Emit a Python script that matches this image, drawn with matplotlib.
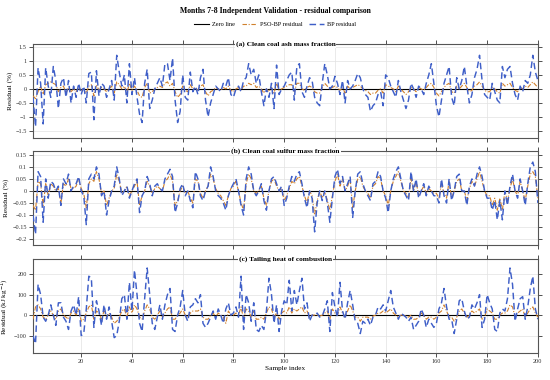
import numpy as np
import matplotlib
matplotlib.use("Agg")
import matplotlib.pyplot as plt
from matplotlib.ticker import FuncFormatter

plt.rcParams['font.family'] = ['Liberation Serif', 'DejaVu Serif']
plt.rcParams['axes.unicode_minus'] = True

# ---- data (residuals per sample, 200 samples) ----
ash_bp = [
    -0.3, -1.35, 0.75, 0.2, -1.25, 0.75, 0.1, -0.3, 0.8, 0.3,
    -0.7, 0.2, 0.4, -0.3, 0.3, -0.5, 0.1, -0.3, 0.2, -0.2,
    0.1, -0.5, 0.55, 0.6, -1.1, 0.65, -0.25, 0.2, 0.1, -0.3,
    0.0, 0.3, -0.4, 1.2, 0.6, 0.1, 0.5, -0.5, 0.9, -0.2,
    0.4, -0.3, -0.9, -1.2, 0.2, 0.7, -0.7, -0.4, 0.0, 0.2,
    0.4, 0.1, 0.9, 0.9, 0.3, 1.1, -0.4, -1.2, -0.8, 0.5,
    -0.3, -0.4, 0.6, -0.1, 0.1, -0.2, 0.4, 0.7, -0.4, -1.0,
    -0.5, -0.2, 0.1, 0.0, -0.1, 0.2, 0.1, 0.4, -0.2, -0.3,
    0.0, 0.1, -0.1, 0.3, 0.4, 0.9, 0.5, 0.7, 0.2, 0.5,
    -0.1, -0.6, 0.0, -0.3, 0.2, -0.7, 0.85, -0.2, 0.0, 0.1,
    0.3, 0.5, 0.6, -0.4, 0.8, 0.9, -0.1, -0.3, 0.1, 0.4,
    0.3, -0.3, -0.5, -0.6, 0.2, 0.9, 0.5, 0.0, 0.1, 0.45,
    0.2, -0.2, 0.3, -0.5, 0.3, 0.0, 0.1, 0.3, 0.55, 0.4,
    0.0, -0.2, -0.3, -0.8, -0.6, -0.5, -0.2, -0.1, -0.6, 0.5,
    0.4, 0.1, -0.1, -0.3, 0.3, -0.1, -0.4, -0.7, -0.4, 0.2,
    0.0, -0.3, 0.1, 0.0, -0.2, 0.2, 0.5, 0.9, 0.2, -0.6,
    -1.0, -0.4, 0.2, 0.5, 0.8, -0.3, -0.6, 0.4, 0.0, 0.3,
    0.8, 0.1, -0.5, -0.2, 0.4, 0.7, 1.2, 0.3, -0.2, -0.3,
    -0.4, 0.2, -0.1, -0.4, -0.5, 0.8, 0.4, 0.7, 0.8, 0.2,
    -0.2, -0.4, 0.1, -0.1, 0.3, 0.2, 0.5, 1.2, 0.6, 0.3,
]
ash_pso = [
    -0.25, -0.35, -0.1, 0.1, -0.2, 0.15, 0.2, 0.25, 0.2, 0.15,
    -0.1, 0.05, 0.1, -0.15, 0.05, -0.1, 0.0, -0.1, 0.05, -0.05,
    0.0, -0.15, 0.1, 0.15, -0.25, 0.15, -0.05, 0.05, 0.0, -0.1,
    0.0, 0.1, -0.15, 0.25, 0.15, 0.0, 0.1, -0.15, 0.2, -0.05,
    0.1, -0.05, -0.25, -0.3, 0.05, 0.2, -0.15, -0.1, 0.0, 0.05,
    0.1, 0.05, 0.2, 0.25, 0.1, 0.2, -0.1, -0.3, -0.2, 0.1,
    -0.05, -0.1, 0.15, 0.0, 0.05, -0.05, 0.1, 0.15, -0.1, -0.25,
    -0.1, -0.05, 0.05, 0.0, -0.05, 0.05, 0.0, 0.1, -0.05, -0.1,
    0.0, 0.05, -0.05, 0.1, 0.1, 0.2, 0.15, 0.2, 0.05, 0.1,
    0.0, -0.15, 0.0, -0.1, 0.05, -0.15, 0.2, -0.05, 0.0, 0.05,
    0.1, 0.15, 0.15, -0.1, 0.2, 0.2, 0.0, -0.05, 0.05, 0.1,
    0.05, -0.1, -0.15, -0.15, 0.05, 0.2, 0.1, 0.0, 0.05, 0.1,
    0.05, -0.05, 0.05, -0.15, 0.1, 0.0, 0.05, 0.1, 0.15, 0.1,
    0.0, -0.05, -0.1, -0.2, -0.15, -0.15, -0.05, 0.0, -0.15, 0.15,
    0.1, 0.05, 0.0, -0.1, 0.1, 0.0, -0.1, -0.2, -0.1, 0.05,
    0.0, -0.1, 0.05, 0.0, -0.05, 0.05, 0.15, 0.2, 0.05, -0.15,
    -0.25, -0.1, 0.05, 0.15, 0.2, -0.1, -0.15, 0.1, 0.0, 0.1,
    0.2, 0.05, -0.1, -0.05, 0.1, 0.15, 0.25, 0.1, -0.05, -0.1,
    -0.1, 0.05, 0.0, -0.1, -0.15, 0.2, 0.1, 0.15, 0.2, 0.05,
    -0.05, -0.1, 0.05, 0.0, 0.1, 0.05, 0.15, 0.25, 0.15, 0.05,
]
sulfur_bp = [
    -0.1, -0.18, 0.08, 0.06, -0.13, 0.05, -0.03, 0.04, 0.03, 0.0,
    0.02, -0.06, 0.05, 0.03, 0.07, 0.0, 0.02, 0.03, 0.06, 0.0,
    -0.02, -0.14, 0.05, 0.07, 0.05, 0.1, 0.07, -0.02, 0.0, -0.1,
    -0.04, 0.0, 0.02, 0.1, 0.05, -0.02, 0.0, 0.02, -0.03, 0.0,
    0.03, 0.05, -0.09, -0.02, 0.0, 0.06, 0.03, -0.02, 0.02, 0.03,
    0.01, 0.0, 0.05, 0.07, 0.09, 0.06, -0.09, -0.05, 0.01, 0.03,
    -0.02, 0.0, -0.04, -0.07, 0.08, 0.05, -0.02, -0.04, 0.0, 0.02,
    0.1, 0.06, 0.0, -0.02, -0.03, -0.05, -0.08, -0.02, 0.01, 0.03,
    0.05, 0.0, -0.06, -0.1, 0.05, 0.1, 0.07, 0.0, -0.02, 0.0,
    0.03, -0.04, -0.08, 0.0, 0.05, 0.06, 0.03, 0.0, 0.02, -0.06,
    -0.03, 0.02, 0.06, 0.04, 0.07, 0.08, 0.03, -0.03, -0.07, 0.0,
    -0.03, -0.17, -0.05, 0.0, -0.04, 0.0, -0.05, -0.13, -0.03, 0.06,
    0.09, 0.03, 0.06, 0.0, 0.03, 0.06, -0.11, 0.0, 0.07, 0.08,
    0.03, 0.0, -0.02, -0.04, 0.03, 0.04, 0.08, 0.06, 0.0, -0.03,
    -0.09, 0.0, 0.05, 0.08, 0.1, 0.05, 0.0, -0.02, -0.04, 0.08,
    0.0, 0.05, -0.03, 0.0, 0.03, -0.02, 0.02, 0.0, -0.02, -0.02,
    -0.05, 0.05, -0.02, -0.05, 0.05, -0.04, 0.0, 0.06, 0.07, 0.0,
    0.0, -0.06, 0.02, 0.05, 0.02, 0.07, 0.1, 0.06, 0.0, -0.03,
    -0.03, -0.08, -0.04, -0.12, -0.04, -0.12, 0.0, -0.06, 0.02, 0.07,
    0.0, -0.03, 0.05, 0.0, -0.06, 0.03, 0.1, 0.12, 0.08, -0.05,
]
sulfur_pso = [
    -0.06, -0.08, 0.04, 0.03, -0.06, 0.03, -0.02, 0.03, 0.02, 0.0,
    0.01, -0.05, 0.03, 0.02, 0.05, 0.01, 0.01, 0.02, 0.05, 0.01,
    -0.01, -0.07, 0.03, 0.05, 0.04, 0.08, 0.05, -0.01, 0.0, -0.06,
    -0.03, 0.0, 0.01, 0.07, 0.04, -0.01, 0.0, 0.02, -0.02, 0.0,
    0.02, 0.04, -0.06, -0.02, 0.0, 0.04, 0.02, -0.01, 0.01, 0.02,
    0.01, 0.0, 0.04, 0.05, 0.07, 0.04, -0.06, -0.04, 0.0, 0.02,
    -0.01, 0.0, -0.03, -0.05, 0.05, 0.04, -0.01, -0.03, 0.0, 0.02,
    0.07, 0.05, 0.01, -0.01, -0.02, -0.04, -0.06, -0.02, 0.01, 0.02,
    0.04, 0.0, -0.05, -0.08, 0.03, 0.07, 0.05, 0.0, -0.01, 0.0,
    0.02, -0.03, -0.06, 0.0, 0.04, 0.05, 0.02, 0.0, 0.01, -0.04,
    -0.02, 0.01, 0.04, 0.03, 0.05, 0.06, 0.02, -0.02, -0.05, 0.0,
    -0.02, -0.1, -0.04, 0.0, -0.03, 0.0, -0.04, -0.08, -0.02, 0.04,
    0.07, 0.02, 0.05, 0.0, 0.02, 0.05, -0.07, 0.0, 0.05, 0.06,
    0.02, 0.0, -0.01, -0.03, 0.02, 0.03, 0.06, 0.05, 0.0, -0.02,
    -0.06, 0.0, 0.04, 0.06, 0.08, 0.04, 0.0, -0.01, -0.03, 0.05,
    0.0, 0.04, -0.02, 0.0, 0.02, -0.01, 0.01, 0.0, -0.01, -0.01,
    -0.03, 0.03, -0.01, -0.03, 0.04, -0.03, 0.0, 0.04, 0.05, 0.0,
    0.0, -0.04, 0.01, 0.04, 0.02, 0.05, 0.08, 0.04, 0.0, -0.02,
    -0.02, -0.06, -0.03, -0.08, -0.03, -0.08, 0.0, -0.04, 0.01, 0.05,
    0.0, -0.02, 0.04, 0.0, -0.04, 0.02, 0.07, 0.08, 0.06, -0.03,
]
heat_bp = [
    -100, -140, 150, 100, -10, -30, 0, 50, 0, -50,
    60, 60, -10, -30, -70, 20, 50, 0, 90, -100,
    -90, 30, 190, 180, -60, 70, 20, -50, 50, -20,
    40, -30, -110, -100, -30, 80, 100, -20, 160, 20,
    220, 100, -40, -80, 80, 230, 100, -40, -70, -10,
    50, -20, 50, 100, 130, -70, -80, 0, 40, 120,
    0, -30, 40, 50, 80, 60, 100, -40, -60, -40,
    -10, 20, -20, 30, 0, -40, 30, 60, 0, 10,
    40, -10, 190, -70, 100, 60, -30, 60, -70, -80,
    -50, -70, 20, 180, 100, -40, 50, -80, 20, 70,
    50, 170, 20, 120, 50, 120, 180, 30, 60, -30,
    0, 0, 10, -10, -5, 30, 70, -80, 110, 40,
    -10, 160, 20, -20, 60, 120, 50, -30, -40, -90,
    -30, -40, -20, -50, -10, 0, 40, 30, 50, 20,
    70, 120, 40, 10, -20, 10, 0, -10, -30, -10,
    -70, -50, -30, 30, 0, -60, -20, -40, -60, -40,
    30, 60, 130, 40, -20, -20, -90, -20, 70, 80,
    20, -20, -10, 50, 30, 60, 100, -60, -20, 100,
    60, 30, -70, -80, 10, 30, 20, 80, 230, 150,
    -30, 30, 80, 90, -20, 40, 130, 190, 30, -20,
]
heat_pso = [
    -20, 40, 50, 30, -10, -20, 0, 20, 0, -20,
    20, 30, 0, -10, -20, 10, 20, 0, 30, -30,
    -20, 10, 40, 50, -20, 20, 10, -20, 20, -10,
    10, -10, -40, -30, -10, 20, 30, -10, 40, 10,
    50, 30, -10, -20, 20, 50, 30, -10, -20, 0,
    20, -10, 10, 30, 40, -20, -20, 0, 10, 30,
    0, -10, 10, 20, 20, 20, 30, -10, -20, -20,
    0, 10, -10, 10, 0, -10, -40, 20, 0, 0,
    10, 0, 40, -20, 30, 20, -10, 20, -20, -20,
    -10, -20, 10, 40, 30, -10, 10, -20, 10, 20,
    10, 40, 10, 30, 20, 30, 40, 10, 20, -10,
    0, 0, 0, -5, 0, 10, 20, -20, 30, 10,
    0, 40, 10, -10, 20, 50, 20, -10, -10, -30,
    -10, -10, -10, -20, -5, 0, 10, 10, 20, 10,
    20, 30, 10, 0, -10, 0, 0, -5, -10, 0,
    -20, -20, -10, 10, 0, -20, -10, -10, -20, -10,
    10, 20, 50, 20, -10, -10, -30, -10, 20, 30,
    10, -10, 0, 20, 10, 20, 30, -20, -10, 30,
    20, 10, -20, -20, 0, 10, 10, 20, 50, 40,
    -10, 10, 20, 30, -10, 10, 30, 40, 10, -10,
]

panel_titles = ['(a) Clean coal ash mass fraction',
                '(b) Clean coal sulfur mass fraction',
                '(c) Tailing heat of combustion']
y_labels = ['Residual (%)', 'Residual (%)', 'Residual (kJ kg$^{-1}$)']
y_ticks = [[-1.5, -1, -0.5, 0, 0.5, 1, 1.5],
           [-0.2, -0.15, -0.1, -0.05, 0, 0.05, 0.1, 0.15],
           [-100, 0, 100, 200]]
y_limits = [(-1.75, 1.6), (-0.225, 0.165), (-185, 273)]
x_ticks = [20, 40, 60, 80, 100, 120, 140, 160, 180, 200]

bp_series = [ash_bp, sulfur_bp, heat_bp]
pso_series = [ash_pso, sulfur_pso, heat_pso]
samples = np.arange(1, len(ash_bp) + 1)

bp_color = '#3f5fc8'
pso_color = '#d0802c'

fig = plt.figure(figsize=(5.5, 3.8), dpi=100)
bottoms = [0.637, 0.355, 0.071]
axes = [fig.add_axes([0.06, b, 0.918, 0.247]) for b in bottoms]

fmt = FuncFormatter(lambda v, p: f"{v:g}".replace('-', '\u2212'))

for i, ax in enumerate(axes):
    zl, = ax.plot([1, 200], [0, 0], color='black', lw=0.8, zorder=2)
    pl, = ax.plot(samples, pso_series[i], color=pso_color, lw=0.8,
                  ls=(0, (4, 1.5, 1, 1.5)), zorder=3)
    bl, = ax.plot(samples, bp_series[i], color=bp_color, lw=1.05,
                  ls=(0, (4.5, 2.5)), zorder=4)
    ax.set_xlim(1, 200)
    ax.set_ylim(*y_limits[i])
    ax.set_yticks(y_ticks[i])
    ax.yaxis.set_major_formatter(fmt)
    ax.set_xticks(x_ticks)
    ax.grid(True, color='#e2e2e2', lw=0.5)
    ax.set_axisbelow(True)
    ax.tick_params(direction='out', length=3, width=0.6, labelsize=4.5,
                   top=True, right=True, pad=1.5, colors='#333333')
    for s in ax.spines.values():
        s.set_color('#555555')
        s.set_linewidth(0.8)
    ax.set_ylabel(y_labels[i], fontsize=5.2, labelpad=2)
    if i < 2:
        ax.tick_params(labelbottom=False)
    ax.text(0.5, 1.0, panel_titles[i], transform=ax.transAxes,
            ha='center', va='center', fontsize=5.3, fontweight='bold',
            bbox=dict(facecolor='white', edgecolor='none', pad=0.6))

axes[2].set_xlabel('Sample index', fontsize=5.2, labelpad=1.5)

fig.text(0.5, 0.982, 'Months 7-8 Independent Validation - residual comparison',
         ha='center', va='top', fontsize=5.6, fontweight='bold')
fig.legend([zl, pl, bl], ['Zero line', 'PSO-BP residual', 'BP residual'],
           loc='center', bbox_to_anchor=(0.5, 0.936), ncol=3, frameon=False,
           fontsize=4.5, handlelength=2.4, columnspacing=1.0, handletextpad=0.5)

fig.savefig('out.png', dpi=100)
